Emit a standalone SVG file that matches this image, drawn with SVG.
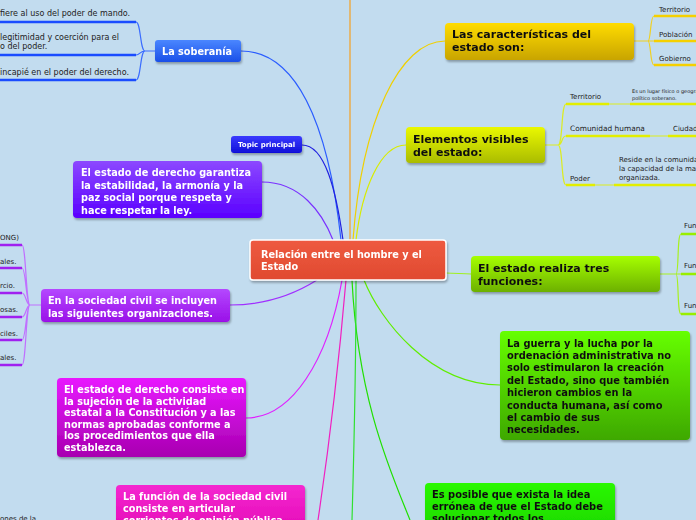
<svg xmlns="http://www.w3.org/2000/svg" width="696" height="520" viewBox="0 0 696 520">
<defs>
<filter id="sh" x="-10%" y="-10%" width="130%" height="140%"><feDropShadow dx="1" dy="2" stdDeviation="1.2" flood-color="#000" flood-opacity="0.3"/></filter>
<linearGradient id="gRed" x1="0" y1="0" x2="0" y2="1"><stop offset="0" stop-color="#ee5a40"/><stop offset="1" stop-color="#e04a30"/></linearGradient>
<linearGradient id="gBlue" x1="0" y1="0" x2="0" y2="1"><stop offset="0" stop-color="#4a86ff"/><stop offset="1" stop-color="#1a4fe8"/></linearGradient>
<linearGradient id="gDBlue" x1="0" y1="0" x2="0" y2="1"><stop offset="0" stop-color="#3a3aff"/><stop offset="1" stop-color="#1010d8"/></linearGradient>
<linearGradient id="gPur1" x1="0" y1="0" x2="0" y2="1"><stop offset="0" stop-color="#8c48ff"/><stop offset="1" stop-color="#5a00ff"/></linearGradient>
<linearGradient id="gPur2" x1="0" y1="0" x2="0" y2="1"><stop offset="0" stop-color="#b448ff"/><stop offset="1" stop-color="#9a10e8"/></linearGradient>
<linearGradient id="gMag" x1="0" y1="0" x2="0" y2="1"><stop offset="0" stop-color="#e818ff"/><stop offset="1" stop-color="#a800b0"/></linearGradient>
<linearGradient id="gPink" x1="0" y1="0" x2="0" y2="1"><stop offset="0" stop-color="#f428d0"/><stop offset="1" stop-color="#e000b0"/></linearGradient>
<linearGradient id="gGold" x1="0" y1="0" x2="0" y2="1"><stop offset="0" stop-color="#ffdc00"/><stop offset="1" stop-color="#c8a400"/></linearGradient>
<linearGradient id="gYG" x1="0" y1="0" x2="0" y2="1"><stop offset="0" stop-color="#eaf800"/><stop offset="1" stop-color="#aabc00"/></linearGradient>
<linearGradient id="gLime" x1="0" y1="0" x2="0" y2="1"><stop offset="0" stop-color="#a6ff00"/><stop offset="1" stop-color="#6cb000"/></linearGradient>
<linearGradient id="gGrn" x1="0" y1="0" x2="0" y2="1"><stop offset="0" stop-color="#66ff00"/><stop offset="1" stop-color="#3ea800"/></linearGradient>
<linearGradient id="gBGrn" x1="0" y1="0" x2="0" y2="1"><stop offset="0" stop-color="#2af800"/><stop offset="1" stop-color="#18d000"/></linearGradient>
</defs>
<style>
text{font-family:"DejaVu Sans","Verdana",sans-serif;}
.nb{font-weight:bold;font-size:9.7px;fill:#fff;}
.nk{font-weight:bold;font-size:9.9px;fill:#111;}
.nk11{font-weight:bold;font-size:11px;fill:#111;}
.st{font-size:7px;fill:#222;}
.sl{font-size:8px;fill:#222;}
.tiny{font-size:5px;fill:#222;}
.c{fill:none;stroke-width:1.2;}
.ul{fill:none;stroke-width:2.5;stroke-linecap:butt;}
.node{filter:url(#sh);}
</style>
<rect width="696" height="520" fill="#c2dcef"/>

<g id="connectors">
<path class="c" d="M350,0 L350,240" stroke="#f5a020" stroke-width="1.8"/>
<path class="c" d="M241,51 C295,51 328,120 341,240" stroke="#2a5cff"/>
<path class="c" d="M302,145 C325,145 336,190 343,240" stroke="#2020e0"/>
<path class="c" d="M262,182 C300,182 322,212 333,240" stroke="#7a30ff"/>
<path class="c" d="M445,41 C400,41 362,120 353,240" stroke="#f0d000"/>
<path class="c" d="M406,145 C380,145 362,190 356,240" stroke="#d8ec00"/>
<path class="c" d="M446,273 C456,273 462,274 471,274" stroke="#a0f020"/>
<path class="c" d="M230,305 C270,305 298,292 317,280" stroke="#a030ff"/>
<path class="c" d="M246,418 C292,418 328,360 342,280" stroke="#e020ff"/>
<path class="c" d="M318,520 C330,440 340,350 346,280" stroke="#f020c0"/>
<path class="c" d="M500,385 C430,385 380,320 364,280" stroke="#60ee00"/>
<path class="c" d="M410,520 C390,470 358,400 352,280" stroke="#20e000"/>
<path class="c" d="M356,280 C356,380 354,450 352,520" stroke="#30e030"/>

<path class="c" d="M155,51 L145,51 C140,51 141,22 136,22 M145,51 C140,51 140,55 136,55 M145,51 C140,51 141,80 136,80" stroke="#3a6cff"/>
<path class="ul" d="M-5,22 L136,22 M-5,55 L136,55 M-5,80 L136,80" stroke="#1a4cff"/>
<path class="c" d="M41,305 L30,305 C26,305 26,245 22,245 M30,305 C26,305 26,268 22,268 M30,305 C26,305 26,293 22,293 M30,305 C26,305 26,317 22,317 M30,305 C26,305 26,340 22,340 M30,305 C26,305 26,365 22,365" stroke="#c070ff"/>
<path class="ul" d="M-5,245 L22,245 M-5,268 L22,268 M-5,293 L22,293 M-5,317 L22,317 M-5,340 L22,340 M-5,365 L22,365" stroke="#a020f0"/>
<path class="c" d="M634,41 L648,41 C651,41 650,16 654,16 M648,41 L654,41 M648,41 C651,41 650,65 654,65" stroke="#f0d020"/>
<path class="ul" d="M654,16 L700,16 M654,41 L700,41 M654,65 L700,65" stroke="#f5d000"/>
<path class="c" d="M545,145 L558,145 C563,145 561,104 566,104 M558,145 C563,145 561,136 566,136 M558,145 C563,145 561,185 566,185" stroke="#dcec20"/>
<path class="c" d="M609,104 L630,104 M650,136 L668,136 M595,185 L614,185" stroke="#dcec20"/>
<path class="ul" d="M566,104 L609,104 M566,136 L650,136 M566,185 L595,185 M630,104 L700,104 M668,136 L700,136 M614,185 L700,185" stroke="#e2ee00"/>
<path class="c" d="M660,274 L676,274 C679,274 677,234 681,234 M676,274 L681,274 M676,274 C679,274 677,314 681,314" stroke="#a8f020"/>
<path class="ul" d="M681,234 L700,234 M681,274 L700,274 M681,314 L700,314" stroke="#99ee00"/>
</g>

<g id="central" class="node"><rect x="250" y="240" width="196" height="40" rx="3" fill="url(#gRed)" stroke="#fff" stroke-width="1.5"/>
<text class="nb" x="261" y="258">Relación entre el hombre y el</text><text class="nb" x="261" y="270">Estado</text></g>

<g id="soberania" class="node"><rect x="155" y="40" width="86" height="22" rx="3" fill="url(#gBlue)"/>
<text class="nb" x="162" y="55">La soberanía</text></g>
<g id="sob-sub">
<text class="sl" x="0" y="16">fiere al uso del poder de mando.</text>
<text class="sl" x="0" y="40">legitimidad y coerción para el</text>
<text class="sl" x="0" y="49">o del poder.</text>
<text class="sl" x="0" y="75">incapié en el poder del derecho.</text>
</g>

<g id="topic" class="node"><rect x="231" y="136" width="71" height="17" rx="3" fill="url(#gDBlue)"/>
<text x="238" y="147" style="font-weight:bold;font-size:7px;fill:#fff">Topic principal</text></g>

<g id="garantiza" class="node"><rect x="73" y="161" width="189" height="57" rx="4" fill="url(#gPur1)"/>
<text class="nb" x="81" y="176">El estado de derecho garantiza</text>
<text class="nb" x="81" y="188.5">la estabilidad, la armonía y la</text>
<text class="nb" x="81" y="201">paz social porque respeta y</text>
<text class="nb" x="81" y="213.5">hace respetar la ley.</text></g>

<g id="sociedad" class="node"><rect x="41" y="289" width="189" height="33" rx="4" fill="url(#gPur2)"/>
<text class="nb" x="48" y="304">En la sociedad civil se incluyen</text>
<text class="nb" x="48" y="316.5">las siguientes organizaciones.</text></g>
<g id="soc-sub">
<text class="st" x="0" y="240">ONG)</text>
<text class="st" x="0" y="264">ales.</text>
<text class="st" x="0" y="288">rcio.</text>
<text class="st" x="0" y="312">osas.</text>
<text class="st" x="0" y="336">ciles.</text>
<text class="st" x="0" y="360">ales.</text>
</g>

<g id="consiste" class="node"><rect x="57" y="378" width="189" height="79" rx="4" fill="url(#gMag)"/>
<text class="nb" x="64" y="393">El estado de derecho consiste en</text>
<text class="nb" x="64" y="404.5">la sujeción de la actividad</text>
<text class="nb" x="64" y="416">estatal a la Constitución y a las</text>
<text class="nb" x="64" y="427.5">normas aprobadas conforme a</text>
<text class="nb" x="64" y="439">los procedimientos que ella</text>
<text class="nb" x="64" y="450.5">establezca.</text></g>

<g id="funcion" class="node"><rect x="116" y="485" width="189" height="60" rx="4" fill="url(#gPink)"/>
<text class="nb" x="123" y="500">La función de la sociedad civil</text>
<text class="nb" x="123" y="512">consiste en articular</text>
<text class="nb" x="123" y="524">corrientes de opinión pública</text></g>
<text class="st" x="0" y="521">ones de la</text>

<g id="caracteristicas" class="node"><rect x="445" y="23" width="189" height="37" rx="4" fill="url(#gGold)"/>
<text class="nk11" x="452" y="38">Las características del</text>
<text class="nk11" x="452" y="51">estado son:</text></g>
<g id="car-sub">
<text class="st" x="659" y="12">Territorio</text>
<text class="st" x="659" y="37">Población</text>
<text class="st" x="659" y="61">Gobierno</text>
</g>

<g id="elementos" class="node"><rect x="406" y="127" width="139" height="36" rx="4" fill="url(#gYG)"/>
<text class="nk11" x="413" y="143">Elementos visibles</text>
<text class="nk11" x="413" y="156">del estado:</text></g>
<g id="ele-sub">
<text class="st" x="570" y="99">Territorio</text>
<text class="tiny" x="632" y="93">Es un lugar físico o geográfico</text>
<text class="tiny" x="632" y="100">político soberano.</text>
<text class="st" x="570" y="131" style="font-size:7.4px">Comunidad humana</text>
<text class="st" x="673" y="131">Ciudadanos</text>
<text class="st" x="570" y="181">Poder</text>
<text class="st" x="619" y="162">Reside en la comunidad con</text>
<text class="st" x="619" y="171">la capacidad de la mayoría</text>
<text class="st" x="619" y="180">organizada.</text>
</g>

<g id="tres" class="node"><rect x="471" y="256" width="189" height="36" rx="4" fill="url(#gLime)"/>
<text class="nk11" x="478" y="272">El estado realiza tres</text>
<text class="nk11" x="478" y="285">funciones:</text></g>
<g id="tres-sub">
<text class="st" x="684" y="228">Función</text>
<text class="st" x="684" y="268">Función</text>
<text class="st" x="684" y="308">Función</text>
</g>

<g id="guerra" class="node"><rect x="500" y="331" width="190" height="109" rx="4" fill="url(#gGrn)"/>
<text class="nk" x="507" y="347">La guerra y la lucha por la</text>
<text class="nk" x="507" y="359">ordenación administrativa no</text>
<text class="nk" x="507" y="371">solo estimularon la creación</text>
<text class="nk" x="507" y="384">del Estado, sino que también</text>
<text class="nk" x="507" y="396">hicieron cambios en la</text>
<text class="nk" x="507" y="409">conducta humana, así como</text>
<text class="nk" x="507" y="421">el cambio de sus</text>
<text class="nk" x="507" y="433">necesidades.</text></g>

<g id="posible" class="node"><rect x="425" y="483" width="190" height="60" rx="4" fill="url(#gBGrn)"/>
<text class="nk" x="432" y="498">Es posible que exista la idea</text>
<text class="nk" x="432" y="510">errónea de que el Estado debe</text>
<text class="nk" x="432" y="522">solucionar todos los</text></g>
</svg>
